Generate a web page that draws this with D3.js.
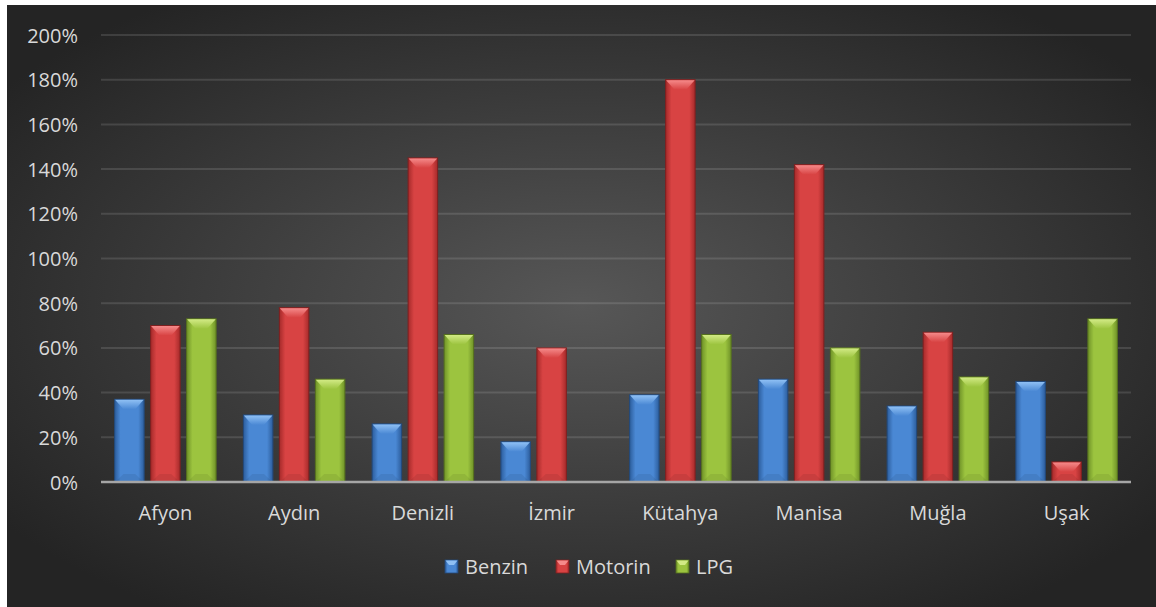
<!DOCTYPE html>
<html>
<head>
<meta charset="utf-8">
<script src="https://cdn.jsdelivr.net/npm/d3@7"></script>
<style>
  html, body { margin: 0; padding: 0; background: #fff; }
  svg { display: block; }
  text { font-family: 'Open Sans', sans-serif; fill: #d9d9d9; }
</style>
</head>
<body>
<div id="chart"></div>
<script>
// chart data
const categories = ['Afyon', 'Aydın', 'Denizli', 'İzmir', 'Kütahya', 'Manisa', 'Muğla', 'Uşak'];
const seriesNames = ['Benzin', 'Motorin', 'LPG'];
const benzin = [0.37, 0.30, 0.26, 0.18, 0.39, 0.46, 0.34, 0.45];
const motorin = [0.70, 0.78, 1.45, 0.60, 1.80, 1.42, 0.67, 0.09];
const lpg = [0.73, 0.46, 0.66, 0, 0.66, 0.60, 0.47, 0.73];
const yTicks = [0, 0.2, 0.4, 0.6, 0.8, 1.0, 1.2, 1.4, 1.6, 1.8, 2.0];

const width = 1156;
const height = 607;

// colours per series: edge, middle, bevel top
const palette = {
  Benzin: { edge: '#2c5d9c', mid: '#4a88d4', top: '#8fc0f4', line: '#234a7c' },
  Motorin: { edge: '#a52a2a', mid: '#d84343', top: '#f58a8a', line: '#7f2020' },
  LPG: { edge: '#6f9228', mid: '#9cc43f', top: '#d2ea85', line: '#56711e' },
};

const svg = d3.select('#chart')
  .append('svg')
  .attr('width', width)
  .attr('height', height);

const defs = svg.append('defs');

// background radial gradient
const bg = defs.append('radialGradient')
  .attr('id', 'bgGrad')
  .attr('cx', '50%').attr('cy', '50%').attr('r', '62%');
bg.append('stop').attr('offset', '0%').attr('stop-color', '#575757');
bg.append('stop').attr('offset', '100%').attr('stop-color', '#242424');

svg.append('rect')
  .attr('x', 7).attr('y', 5)
  .attr('width', width - 7).attr('height', height - 5)
  .attr('fill', 'url(#bgGrad)');

// bar gradients
seriesNames.forEach((s) => {
  const g = defs.append('linearGradient')
    .attr('id', 'grad-' + s)
    .attr('x1', '0%').attr('x2', '100%').attr('y1', '0%').attr('y2', '0%');
  g.append('stop').attr('offset', '0%').attr('stop-color', palette[s].edge);
  g.append('stop').attr('offset', '20%').attr('stop-color', palette[s].mid);
  g.append('stop').attr('offset', '80%').attr('stop-color', palette[s].mid);
  g.append('stop').attr('offset', '100%').attr('stop-color', palette[s].edge);

  const t = defs.append('linearGradient')
    .attr('id', 'top-' + s)
    .attr('x1', '0%').attr('x2', '0%').attr('y1', '0%').attr('y2', '100%');
  t.append('stop').attr('offset', '0%').attr('stop-color', palette[s].top);
  t.append('stop').attr('offset', '100%').attr('stop-color', palette[s].mid);
});

// scales
const x0 = d3.scaleBand()
  .domain(categories)
  .range([101, 1131]);

const x1 = d3.scaleBand()
  .domain(seriesNames)
  .range([0, x0.bandwidth()])
  .paddingInner(0.18)
  .paddingOuter(0.378);

const y = d3.scaleLinear()
  .domain([0, 2])
  .range([482, 35]);

// gridlines
svg.append('g')
  .selectAll('line')
  .data(yTicks.filter((t) => t > 0))
  .enter()
  .append('line')
  .attr('x1', 101)
  .attr('x2', 1131)
  .attr('y1', (d) => y(d))
  .attr('y2', (d) => y(d))
  .attr('stroke', 'rgba(255,255,255,0.12)')
  .attr('stroke-width', 2);

// y axis labels
const yAxis = d3.axisLeft(y)
  .tickValues(yTicks)
  .tickSize(0)
  .tickPadding(0)
  .tickFormat((d) => Math.round(d * 100) + '%');

const yAxisG = svg.append('g')
  .attr('transform', 'translate(78,0)')
  .call(yAxis);
yAxisG.select('.domain').remove();
yAxisG.selectAll('text')
  .attr('font-size', '20px')
  .attr('fill', '#d9d9d9')
  .attr('dy', '0.35em')
  .style('font-family', "'Open Sans', sans-serif");

// bars
const rows = categories.map((c, i) => ({
  cat: c,
  vals: [
    { s: 'Benzin', v: benzin[i] },
    { s: 'Motorin', v: motorin[i] },
    { s: 'LPG', v: lpg[i] },
  ],
}));

const groups = svg.append('g')
  .selectAll('g')
  .data(rows)
  .enter()
  .append('g')
  .attr('transform', (d) => `translate(${x0(d.cat)},0)`);

const bars = groups.selectAll('g.bar')
  .data((d) => d.vals.filter((v) => v.v > 0))
  .enter()
  .append('g')
  .attr('class', 'bar');

const bw = x1.bandwidth();

bars.append('rect')
  .attr('x', (d) => x1(d.s))
  .attr('y', (d) => y(d.v))
  .attr('width', bw)
  .attr('height', (d) => y(0) - y(d.v))
  .attr('fill', (d) => `url(#grad-${d.s})`)
  .attr('stroke', (d) => palette[d.s].line)
  .attr('stroke-width', 1);

// top bevel
bars.append('polygon')
  .attr('points', (d) => {
    const xl = x1(d.s);
    const xr = xl + bw;
    const t = y(d.v);
    const depth = Math.min(10, (y(0) - t) / 2);
    return [
      [xl + 0.5, t + 0.5],
      [xr - 0.5, t + 0.5],
      [xr - bw * 0.3, t + depth],
      [xl + bw * 0.3, t + depth],
    ].map((p) => p.join(',')).join(' ');
  })
  .attr('fill', (d) => `url(#top-${d.s})`);

// faint bottom bevel
bars.append('polygon')
  .attr('points', (d) => {
    const xl = x1(d.s);
    const xr = xl + bw;
    const b = y(0);
    const depth = Math.min(8, (b - y(d.v)) / 2);
    return [
      [xl + 0.5, b],
      [xr - 0.5, b],
      [xr - bw * 0.3, b - depth],
      [xl + bw * 0.3, b - depth],
    ].map((p) => p.join(',')).join(' ');
  })
  .attr('fill', '#000')
  .attr('opacity', 0.07);

// baseline
svg.append('line')
  .attr('x1', 101)
  .attr('x2', 1131)
  .attr('y1', y(0))
  .attr('y2', y(0))
  .attr('stroke', '#a6a6a6')
  .attr('stroke-width', 2.5);

// category labels
const xAxis = d3.axisBottom(x0).tickSize(0).tickPadding(0);
const xAxisG = svg.append('g')
  .attr('transform', 'translate(0,505)')
  .call(xAxis);
xAxisG.select('.domain').remove();
xAxisG.selectAll('text')
  .attr('font-size', '20px')
  .attr('fill', '#d9d9d9')
  .attr('dy', '0.75em')
  .style('font-family', "'Open Sans', sans-serif");

// legend
const legendItems = [
  { s: 'Benzin', x: 445 },
  { s: 'Motorin', x: 556 },
  { s: 'LPG', x: 676 },
];

const legend = svg.append('g');

const items = legend.selectAll('g')
  .data(legendItems)
  .enter()
  .append('g')
  .attr('transform', (d) => `translate(${d.x},560)`);

items.append('rect')
  .attr('width', 13)
  .attr('height', 13)
  .attr('fill', (d) => `url(#grad-${d.s})`)
  .attr('stroke', (d) => palette[d.s].line)
  .attr('stroke-width', 0.8);

items.append('polygon')
  .attr('points', '0.5,0.5 12.5,0.5 9,5 4,5')
  .attr('fill', (d) => palette[d.s].top);

items.append('text')
  .attr('x', 20)
  .attr('y', 14)
  .attr('font-size', '20px')
  .text((d) => d.s);
</script>
</body>
</html>
